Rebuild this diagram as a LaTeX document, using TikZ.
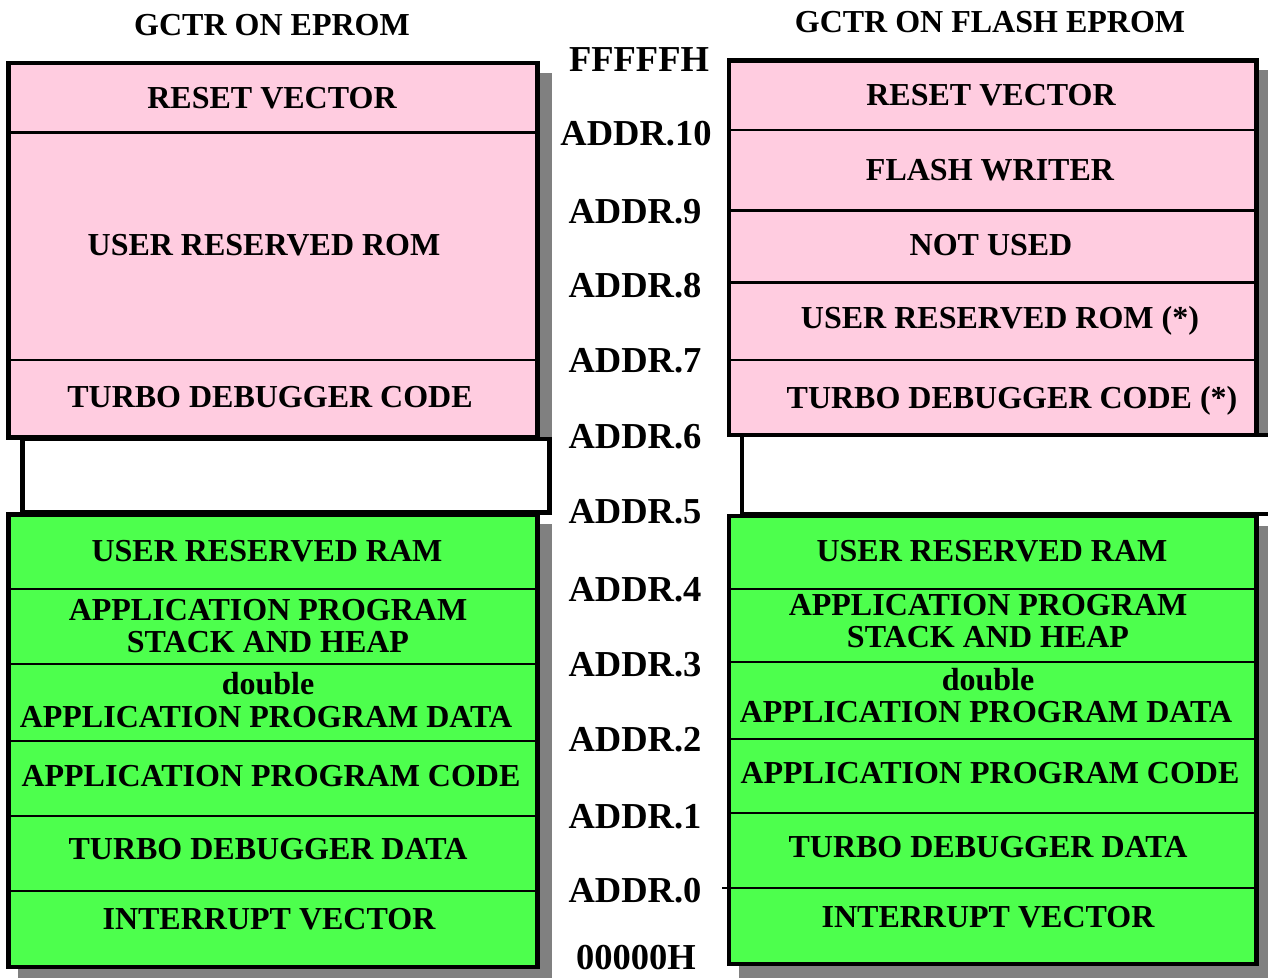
\documentclass[tikz,border=0pt]{standalone}
\usepackage{fontspec}
\setmainfont{Liberation Serif}
\definecolor{pinkc}{RGB}{255,204,224}
\definecolor{greenc}{RGB}{77,255,77}
\definecolor{shadowc}{RGB}{128,128,128}
\begin{document}
\begin{tikzpicture}[x=0.75pt,y=-0.75pt,
  outer/.style={line width=3.4pt},
  divider/.style={line width=2pt},
  shadowbox/.style={fill=shadowc},
  lbl/.style={anchor=base, font=\fontsize{24}{26}\selectfont\bfseries, inner sep=0pt},
  addr/.style={anchor=base, font=\fontsize{27.4}{30}\selectfont\bfseries, inner sep=0pt}]
\useasboundingbox (0,0) rectangle (1268,978);
% shadows
\fill[shadowbox] (21,72.75) rectangle (551.75,451.75);
\fill[shadowbox] (18.25,524.25) rectangle (551.75,981.25);
\fill[shadowbox] (742,70.25) rectangle (1270.75,449.25);
\fill[shadowbox] (738.75,525.75) rectangle (1270.75,978.25);
% left column
\draw[outer, fill=pinkc] (8.5,63) rectangle (537.5,437.5);
\draw[divider] (8.5,132.7) -- (537.5,132.7);
\draw[divider] (8.5,360) -- (537.5,360);
\draw[outer, fill=white] (22.5,439) rectangle (549.5,512.5);
\draw[outer, fill=greenc] (8.5,514.5) rectangle (537.5,967);
\foreach \yy in {589,664,741,816,891}{\draw[divider] (8.5,\yy) -- (537.5,\yy);}
% right column
\draw[outer, fill=pinkc] (729,60.5) rectangle (1256.5,435);
\foreach \yy in {130,210.7,282.7,360}{\draw[divider] (729,\yy) -- (1256.5,\yy);}
\draw[outer, fill=white] (742,435) rectangle (1275,514);
\draw[outer, fill=greenc] (729,516) rectangle (1256.5,964);
\foreach \yy in {589,662,739,813}{\draw[divider] (729,\yy) -- (1256.5,\yy);}
\draw[divider] (722,888) -- (1256.5,888);
% titles
\node[lbl] (titleL) at (272,35.5) {GCTR ON EPROM};
\node[lbl] (titleR) at (990,32.5) {GCTR ON FLASH EPROM};
% left texts
\node[lbl] (l1) at (272,108) {RESET VECTOR};
\node[lbl] (l2) at (264,255) {USER RESERVED ROM};
\node[lbl] (l3) at (270,407) {TURBO DEBUGGER CODE};
\node[lbl] (l4) at (267,561) {USER RESERVED RAM};
\node[lbl] (l5a) at (268,620) {APPLICATION PROGRAM};
\node[lbl] (l5b) at (268,652) {STACK AND HEAP};
\node[lbl] (l6a) at (268,694) {double};
\node[lbl] (l6b) at (266,727) {APPLICATION PROGRAM DATA};
\node[lbl] (l7) at (271,786) {APPLICATION PROGRAM CODE};
\node[lbl] (l8) at (268,859) {TURBO DEBUGGER DATA};
\node[lbl] (l9) at (269,929) {INTERRUPT VECTOR};
% right texts
\node[lbl] (r1) at (991,105) {RESET VECTOR};
\node[lbl] (r2) at (990,180) {FLASH WRITER};
\node[lbl] (r3) at (991,255) {NOT USED};
\node[lbl] (r4) at (1000,328) {USER RESERVED ROM (*)};
\node[lbl] (r5) at (1012,408) {TURBO DEBUGGER CODE (*)};
\node[lbl] (r6) at (992,561) {USER RESERVED RAM};
\node[lbl] (r7a) at (988,615) {APPLICATION PROGRAM};
\node[lbl] (r7b) at (988,647) {STACK AND HEAP};
\node[lbl] (r8a) at (988,690) {double};
\node[lbl] (r8b) at (986,722) {APPLICATION PROGRAM DATA};
\node[lbl] (r9) at (990,783) {APPLICATION PROGRAM CODE};
\node[lbl] (r10) at (988,857) {TURBO DEBUGGER DATA};
\node[lbl] (r11) at (988,927) {INTERRUPT VECTOR};
% addresses
\node[addr] (aF) at (639,71) {FFFFFH};
\node[addr] (a10) at (636,145) {ADDR.10};
\node[addr] (a9) at (635,223) {ADDR.9};
\node[addr] (a8) at (635,297) {ADDR.8};
\node[addr] (a7) at (635,372) {ADDR.7};
\node[addr] (a6) at (635,448) {ADDR.6};
\node[addr] (a5) at (635,523) {ADDR.5};
\node[addr] (a4) at (635,601) {ADDR.4};
\node[addr] (a3) at (635,676) {ADDR.3};
\node[addr] (a2) at (635,751) {ADDR.2};
\node[addr] (a1) at (635,828) {ADDR.1};
\node[addr] (a0) at (635,902) {ADDR.0};
\node[addr] (a00) at (636,969) {00000H};
\end{tikzpicture}
\end{document}
